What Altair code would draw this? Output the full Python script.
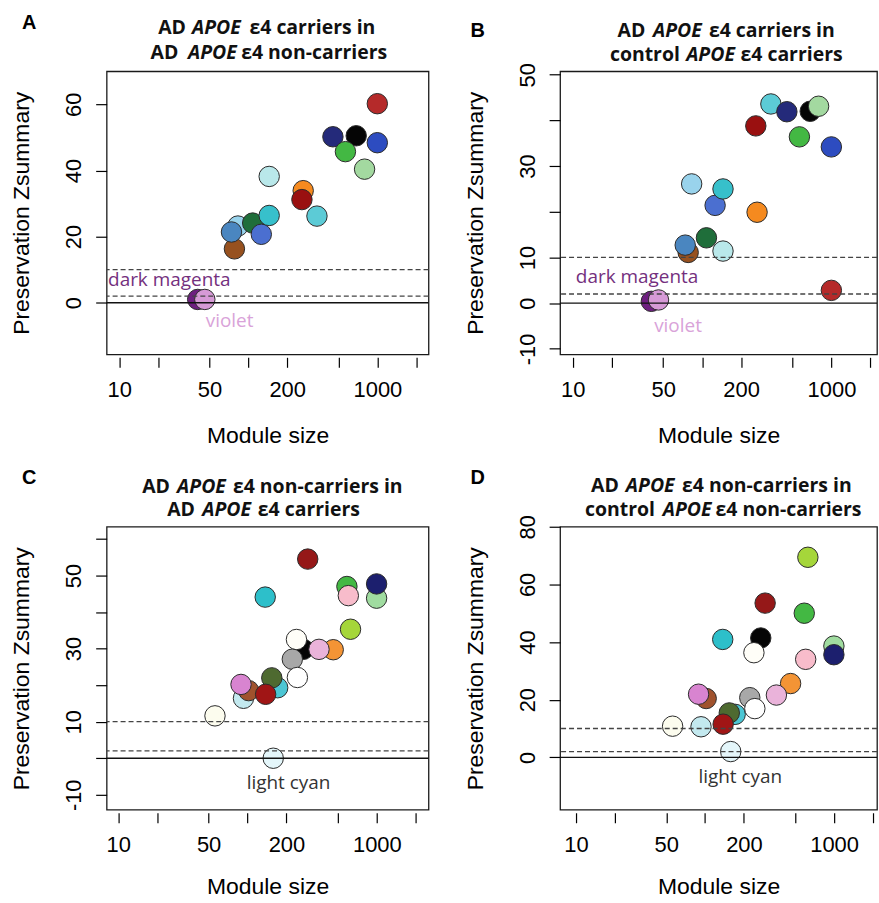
import altair as alt
import pandas as pd

# ---------------- data: panels A and B (same module set) ----------------
ab_modules = ["darkmagenta", "violet", "brown", "skyblue", "steelblue", "darkgreen",
              "royalblue", "turquoise", "paleturquoise", "orange", "darkred",
              "mediumturquoise", "midnightblue", "black", "green", "lightgreen",
              "blue", "firebrick"]
ab_size = [40.5, 46, 78, 83, 74, 108, 126, 145, 145, 266, 260, 340, 452, 685, 565, 795, 998, 998]
a_z = [1.0, 1.0, 16.3, 23.2, 21.4, 24.1, 20.7, 26.4, 38.2, 33.9, 31.2, 26.2, 50.2, 50.5, 45.7, 40.4, 48.4, 60.2]
b_z = [0.4, 0.7, 11.1, 26.1, 12.7, 14.3, 21.4, 25.0, 11.4, 19.9, 38.8, 43.6, 41.9, 42.0, 36.4, 43.1, 34.2, 2.8]

# ---------------- data: panels C and D (same module set) ----------------
cd_modules = ["lightyellow", "lightcyan", "lightcyan1", "sienna", "orchid",
              "mediumturquoise2", "darkolivegreen", "darkred2", "darkturquoise", "maroon",
              "black2", "floralwhite", "darkgrey", "white", "sandybrown", "plum",
              "yellowgreen", "limegreen", "pink", "lightgreen2", "navy"]
cd_size = [56, 158, 93, 102, 89, 171, 154, 138, 137, 292, 270, 239, 222, 243, 460, 357, 626, 587, 602, 996, 996]
c_z = [11.6, 0.0, 16.4, 18.5, 20.2, 19.3, 22.0, 17.5, 44.1, 54.5, 29.8, 32.5, 27.1, 22.1, 29.7, 29.8, 35.3, 47.0, 44.5, 43.8, 47.7]
d_z = [10.8, 2.0, 10.6, 20.4, 21.9, 14.9, 15.4, 11.5, 40.9, 53.5, 41.4, 36.3, 20.7, 16.9, 25.6, 21.6, 69.4, 50.0, 34.0, 38.6, 35.6]

# threshold lines
zero_line = [0]
dashed_lines = [2, 10]

# annotation labels
a_lab_text = ["dark magenta", "violet"]
a_lab_x = [24.4, 71.5]
a_lab_y = [6.95, -5.4]
b_lab_text = ["dark magenta", "violet"]
b_lab_x = [31.4, 65.1]
b_lab_y = [5.7, -4.9]
c_lab_text = ["light cyan"]
c_lab_x = [207.5]
c_lab_y = [-6.8]
d_lab_text = ["light cyan"]
d_lab_x = [187.3]
d_lab_y = [-7.0]

# tick values
x_ticks = [10, 20, 50, 100, 200, 500, 1000, 2000]
x_tick_labels = [10, 50, 200, 1000]

# ---------------- styles ----------------
ab_colors = ["#6e1f80", "#d69ad6", "#97511f", "#99d3ec", "#4a86c0", "#1f6e3a",
             "#4b6fd0", "#37c0cb", "#b9e8ea", "#f58a1f", "#9a1010", "#5ccbd6",
             "#242a7a", "#050505", "#43b843", "#a3d9a0", "#2d4cc0", "#b52a2a"]
cd_colors = ["#fcfcee", "#e4f6fa", "#c3e9ef", "#a0522d", "#d884d0", "#4cc6d4",
             "#4e6a30", "#a01515", "#2dbfca", "#951818", "#050505", "#fffef8",
             "#a8a8a8", "#ffffff", "#f39435", "#eab3da", "#a5d63a", "#43b843",
             "#f8bccb", "#a0dca0", "#1c1f6e"]
label_colors_ab = ["#74307e", "#d9a3d9"]
label_colors_cd = ["#333333"]

AXIS_FONT = "Liberation Sans"
TITLE_FONT = "Open Sans"

anchor = pd.DataFrame({"a": [0]})


def panel(modules, colors, sizes, zs, xdom, ydom, width, yvals, ylabeled,
          lab_text, lab_x, lab_y, lab_colors, title_lines, letter, letter_pos,
          xtitle_pad):
    df = pd.DataFrame({"module": modules, "size": sizes, "z": zs,
                       "idx": list(range(len(modules)))})
    x_enc = alt.X(
        "size:Q",
        scale=alt.Scale(type="log", domain=xdom, nice=False, zero=False),
        axis=alt.Axis(
            values=x_ticks,
            labelExpr=f"indexof({x_tick_labels}, datum.value) >= 0 ? toString(datum.value) : ''",
            title="Module size", domain=False, grid=False, tickSize=10, tickWidth=1.2,
            tickColor="black", offset=3, labelFont=AXIS_FONT, labelFontSize=22,
            labelColor="black", labelPadding=12, labelOverlap=False, labelFlush=False,
            titleFont=AXIS_FONT, titleFontSize=23, titleFontWeight="normal",
            titleColor="black", titlePadding=xtitle_pad,
        ),
    )
    y_enc = alt.Y(
        "z:Q",
        scale=alt.Scale(domain=ydom, nice=False, zero=False),
        axis=alt.Axis(
            values=yvals,
            labelExpr=f"indexof({ylabeled}, datum.value) >= 0 ? toString(datum.value) : ''",
            title="Preservation Zsummary", domain=False, grid=False, tickSize=11,
            tickWidth=1.2, tickColor="black", labelAngle=270, labelAlign="center",
            labelBaseline="bottom", labelFont=AXIS_FONT, labelFontSize=22,
            labelColor="black", labelPadding=10, labelOverlap=False, labelFlush=False,
            titleFont=AXIS_FONT, titleFontSize=23, titleFontWeight="normal",
            titleColor="black", titlePadding=29,
        ),
    )
    pts = alt.Chart(df).mark_circle(
        size=420, opacity=1, stroke="#2b2b2b", strokeWidth=1
    ).encode(
        x=x_enc, y=y_enc,
        color=alt.Color("module:N", scale=alt.Scale(domain=modules, range=colors), legend=None),
        order=alt.Order("idx:Q"),
    )
    zero = alt.Chart(pd.DataFrame({"z": zero_line})).mark_rule(
        color="#111111", strokeWidth=1.3
    ).encode(y=y_enc)
    dashed = alt.Chart(pd.DataFrame({"z": dashed_lines})).mark_rule(
        color="#444444", strokeWidth=1.3, strokeDash=[5, 3]
    ).encode(y=y_enc)
    layers = [pts, zero, dashed]
    for t, lx, ly, lc in zip(lab_text, lab_x, lab_y, lab_colors):
        ldf = pd.DataFrame({"size": [lx], "z": [ly], "label": [t]})
        layers.append(
            alt.Chart(ldf).mark_text(
                font=TITLE_FONT, fontSize=19, color=lc, align="center", baseline="middle"
            ).encode(x=x_enc, y=y_enc, text="label:N")
        )
    # title: segments with italic gene name
    for segs, yy in title_lines:
        for txt, xx, ital in segs:
            layers.append(
                alt.Chart(anchor).mark_text(
                    text=txt, font=TITLE_FONT, fontSize=19.5, fontWeight="bold",
                    fontStyle="italic" if ital else "normal", align="left",
                    baseline="alphabetic", color="#111111",
                ).encode(x=alt.value(xx), y=alt.value(yy))
            )
    layers.append(
        alt.Chart(anchor).mark_text(
            text=letter, font=AXIS_FONT, fontSize=20, fontWeight="bold",
            align="left", baseline="alphabetic", color="black",
        ).encode(x=alt.value(letter_pos[0]), y=alt.value(letter_pos[1]))
    )
    return alt.layer(*layers).properties(width=width, height=284)


A = panel(ab_modules, ab_colors, ab_size, a_z, [7.98, 2489], [-15.6, 70.0], 323,
          [0, 20, 40, 60], [0, 20, 40, 60],
          a_lab_text, a_lab_x, a_lab_y, label_colors_ab,
          [([("AD", 51.7, False), ("APOE", 85.7, True), ("ε4 carriers in", 143.3, False)], -37.3),
           ([("AD", 44, False), ("APOE", 81.7, True), ("ε4 non-carriers", 135, False)], -12.3)],
          "A", (-85, -42.3), 24)

B = panel(ab_modules, ab_colors, ab_size, b_z, [7.98, 2249], [-11.2, 50.75], 318,
          [-10, 0, 10, 20, 30, 40, 50], [-10, 0, 10, 30, 50],
          b_lab_text, b_lab_x, b_lab_y, label_colors_ab,
          [([("AD", 57.7, False), ("APOE", 93.3, True), ("ε4 carriers in", 149.3, False)], -34),
           ([("control", 50, False), ("APOE", 126.5, True), ("ε4 carriers", 181, False)], -10.5)],
          "B", (-90, -34), 24)

C = panel(cd_modules, cd_colors, cd_size, c_z, [8.13, 2512], [-14.1, 63.35], 323,
          [-10, 0, 10, 20, 30, 40, 50, 60], [-10, 10, 30, 50],
          c_lab_text, c_lab_x, c_lab_y, label_colors_cd,
          [([("AD", 35.7, False), ("APOE", 70.7, True), ("ε4 non-carriers in", 126.7, False)], -34.3),
           ([("AD", 60.7, False), ("APOE", 96, True), ("ε4 carriers", 151.7, False)], -10.3)],
          "C", (-85, -43.3), 20)

D = panel(cd_modules, cd_colors, cd_size, d_z, [7.52, 2150], [-18.2, 80.0], 318,
          [0, 20, 40, 60, 80], [0, 20, 40, 60, 80],
          d_lab_text, d_lab_x, d_lab_y, label_colors_cd,
          [([("AD", 31, False), ("APOE", 66, True), ("ε4 non-carriers in", 122.3, False)], -35),
           ([("control", 25, False), ("APOE", 103, True), ("ε4 non-carriers", 156, False)], -11)],
          "D", (-90, -42.7), 20)

chart = alt.concat(
    A, B, C, D, columns=2, spacing={"row": 173, "column": 132}, bounds="flush"
).resolve_scale(
    color="independent"
).properties(
    padding={"left": 10, "top": 11, "right": 0, "bottom": 0},
    background="white",
).configure_view(
    stroke="#1a1a1a", strokeWidth=1.3
)

chart.save("out.html", embed_options={"renderer": "svg", "actions": False})
